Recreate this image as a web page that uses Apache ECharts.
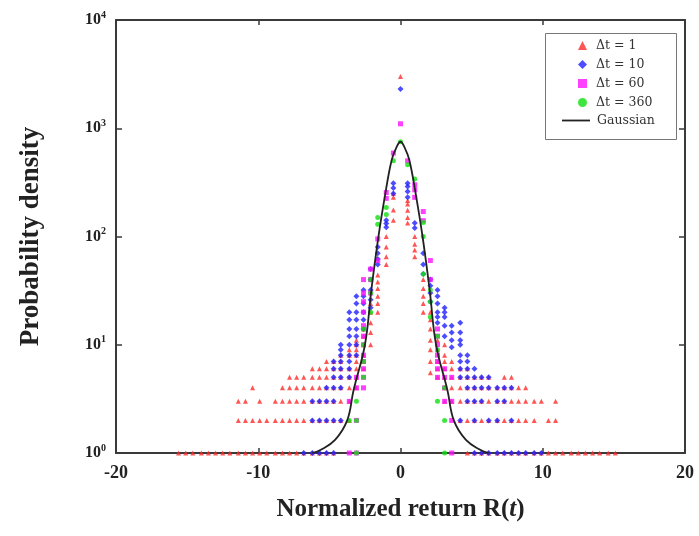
<!DOCTYPE html>
<html><head><meta charset="utf-8">
<script src="https://cdn.jsdelivr.net/npm/echarts@6.0.0/dist/echarts.min.js"></script>
<style>html,body{margin:0;padding:0;background:#fff}#c{width:699px;height:536px}</style>
</head><body><div id="c"></div>
<script>
// ---- data ----
const xTicks = [-20, -10, 0, 10, 20];
const yTicks = [1, 10, 100, 1000, 10000];
const seriesNames = ['Δt = 1', 'Δt = 10', 'Δt = 60', 'Δt = 360', 'Gaussian'];

// columns: [R, [densities at that R]]
const dt1 = [
  [-15.6,[1]],[-15.1,[1]],[-14.6,[1]],[-14.0,[1]],[-13.5,[1]],[-13.0,[1]],[-12.5,[1]],[-12.0,[1]],
  [-11.4,[1,2,3]],[-10.9,[1,2,3]],[-10.4,[1,2,4]],[-9.9,[1,2,3]],[-9.4,[1,2]],[-8.8,[1,2,3]],
  [-8.3,[1,2,3,4]],[-7.8,[1,2,3,4,5]],[-7.3,[1,2,3,4,5]],[-6.8,[1,2,3,4,5]],[-6.2,[1,2,3,4,5,6]],
  [-5.7,[1,2,3,4,5,6]],[-5.2,[1,2,3,4,5,6,7]],[-4.7,[1,2,3,4,5,6,7]],[-4.2,[2,3,4,5,6,7,8]],
  [-3.6,[2,3,4,5,6,8,9]],[-3.1,[4,5,6,7,8,9,10,11]],[-2.6,[6,7,8,10,12,14]],[-2.1,[10,13,16,20,24]],
  [-1.6,[20,24,28,33,38,44]],[-1.0,[55,65,80,100]],[-0.5,[141,176,230,250]],[0,[3000]],
  [0.5,[133,150,175,200,215]],[1.0,[65,75,85,100]],[1.6,[20,24,28,33,40]],[2.1,[5.5,7,9,11,14,17,20]],
  [2.6,[5,6,7,9,11]],[3.1,[3,4,5,6,7,8,10]],[3.6,[3,4,5,6,7]],[4.2,[2,3,4,5,6]],[4.7,[1,2,3,4,5,6]],
  [5.2,[1,2,3,4,5]],[5.7,[1,2,3,4,5]],[6.2,[1,2,3,4,5]],[6.8,[1,2,3,4]],[7.3,[1,2,3,4,5]],
  [7.8,[1,2,3,4,5]],[8.3,[1,2,3,4]],[8.8,[1,2,3,4]],[9.4,[1,2,3]],[9.9,[1,3]],[10.4,[1,2]],
  [10.9,[1,2,3]],[11.4,[1]],[12.0,[1]],[12.5,[1]],[13.0,[1]],[13.5,[1]],[14.0,[1]],[14.6,[1]],[15.1,[1]]
];
const dt10 = [
  [-6.8,[1]],[-6.2,[1,2,3]],[-5.7,[1,2,3]],[-5.2,[1,2,3,4]],[-4.7,[1,2,3,4,5,6,7]],
  [-4.2,[2,4,5,6,7,8,9,10]],[-3.6,[5,6,7,8,10,12,14,17,20]],[-3.1,[8,10,12,14,17,20,24,28]],
  [-2.6,[14,17,20,24,28,32]],[-2.1,[22,26,32,40,50]],[-1.6,[55,62,70,80]],[-1.0,[122,132,141]],
  [-0.5,[250,280,310]],[0,[2300]],[0.5,[230,260,290,310]],[1.0,[120,133]],[1.6,[45,55,70]],
  [2.1,[25,30,35,40]],[2.6,[16,18,20,24,28,32]],[3.1,[12,15,18,20,22]],[3.6,[9.5,11,13,15]],
  [4.2,[2,5,6,7,8,10,11,13,16]],[4.7,[3,4,5,6,7,8]],[5.2,[1,2,3,4,5,6]],[5.7,[1,3,4,5]],
  [6.2,[1,2,4,5]],[6.8,[1,2,3,4]],[7.3,[1,3,4]],[7.8,[1,2,4]],[8.3,[1]],[8.8,[1]],[9.4,[1]],[9.9,[1]]
];
const dt60 = [
  [-3.6,[1,3]],[-3.1,[1,2,4,5]],[-2.6,[4,5,6,7,8,10,12,15,20,25,30,40]],[-2.1,[30,40,50]],
  [-1.6,[60,95]],[-1.0,[225,255]],[-0.5,[590]],[0,[1100]],[0.5,[500]],[1.0,[230,270,300]],
  [1.6,[140,170]],[2.1,[40,60]],[2.6,[5,6,7,8,10,12,14]],[3.1,[3,4,5,6]],[3.6,[1,2,3,5]]
];
const dt360 = [
  [-3.6,[2]],[-3.1,[1,2,3]],[-2.6,[5,7,10,14]],[-2.1,[20,30,40]],[-1.6,[130,150]],
  [-1.0,[160,185]],[-0.5,[500]],[0,[750]],[0.5,[460]],[1.0,[340]],[1.6,[45,100,135]],
  [2.1,[18,25,32]],[2.6,[3,9,12]],[3.1,[1,2,4]]
];
const gaussX = [-6.2,-5.6,-4.6,-3.75,-3.3,-2.5,-2.05,-1.55,-1.06,-0.62,-0.3,0,0.3,0.62,1.06,1.55,2.05,2.5,3.3,3.75,4.6,5.6,6.2];
const gaussY = [1.0,1.07,1.32,2,3.8,10,32,100,252,509,660,750,660,509,252,100,32,10,3.8,2,1.32,1.07,1.0];

// ---- build ----
function flat(cols){ const out=[]; cols.forEach(c=>c[1].forEach(v=>out.push([c[0],v]))); return out; }
const serif = "'Liberation Serif','DejaVu Serif',serif";
const legSerif = "'DejaVu Serif','Liberation Serif',serif";
const axisCol = '#3a3a3a';
const legText = {fontFamily:legSerif,fontSize:12.5,color:'#333',padding:[0,0,0,4]};
const chart = echarts.init(document.getElementById('c'));
chart.setOption({
  animation:false,
  backgroundColor:'#fff',
  grid:{left:116,right:14,top:20,bottom:83,containLabel:false},
  graphic:[{type:'rect',left:543,top:31,shape:{width:131,height:106},
            style:{fill:'none',stroke:'#777',lineWidth:1},silent:true}],
  legend:[{
    orient:'vertical', left:578, top:39,
    data:seriesNames.slice(0,4),
    padding:0, itemGap:6, itemWidth:9, itemHeight:9,
    textStyle:legText
  },{
    orient:'vertical', left:562, top:114,
    data:[{name:seriesNames[4],icon:'rect'}],
    padding:0, itemWidth:28, itemHeight:1.8,
    textStyle:{fontFamily:legSerif,fontSize:12.5,color:'#333',padding:[0,0,0,2]}
  }],
  xAxis:[{
    type:'value', min:xTicks[0], max:xTicks[xTicks.length-1], interval:10,
    name:'{b|Normalized return R(}{i|t}{b|)}', nameLocation:'middle', nameGap:44,
    nameTextStyle:{rich:{b:{fontFamily:serif,fontSize:25,fontWeight:'bold',color:'#222'},
                         i:{fontFamily:serif,fontSize:25,fontWeight:'bold',fontStyle:'italic',color:'#222'}}},
    axisLine:{onZero:false,lineStyle:{color:axisCol,width:2}},
    axisTick:{inside:true,length:5,lineStyle:{color:axisCol,width:1.5}},
    axisLabel:{fontFamily:serif,fontSize:18,fontWeight:'bold',color:'#222',margin:11},
    splitLine:{show:false}
  },{
    type:'value', position:'top', min:xTicks[0], max:xTicks[xTicks.length-1], interval:10,
    axisLine:{onZero:false,lineStyle:{color:axisCol,width:2}},
    axisTick:{inside:true,length:5,lineStyle:{color:axisCol,width:1.5}},
    axisLabel:{show:false}, splitLine:{show:false}
  }],
  yAxis:[{
    type:'log', logBase:10, min:yTicks[0], max:yTicks[yTicks.length-1],
    name:'Probability density', nameLocation:'middle', nameGap:71, nameRotate:90,
    nameTextStyle:{fontFamily:serif,fontSize:27,fontWeight:'bold',color:'#222'},
    axisLine:{onZero:false,lineStyle:{color:axisCol,width:2}},
    axisTick:{inside:true,length:6,lineStyle:{color:axisCol,width:1.5}},
    axisLabel:{fontFamily:serif,fontSize:15,fontWeight:'bold',color:'#222',margin:10,
      formatter:function(v){const e=Math.round(Math.log10(v));return '{b|10}{s|'+e+'}';},
      rich:{b:{fontFamily:serif,fontSize:16,fontWeight:'bold',color:'#222',lineHeight:20},
            s:{fontFamily:serif,fontSize:10,fontWeight:'bold',color:'#222',verticalAlign:'top'}}},
    splitLine:{show:false}, minorTick:{show:false}
  },{
    type:'log', logBase:10, position:'right', min:yTicks[0], max:yTicks[yTicks.length-1],
    axisLine:{onZero:false,lineStyle:{color:axisCol,width:2}},
    axisTick:{inside:true,length:6,lineStyle:{color:axisCol,width:1.5}},
    axisLabel:{show:false}, splitLine:{show:false}
  }],
  series:[
    {name:seriesNames[0],type:'scatter',symbol:'triangle',symbolSize:5,data:flat(dt1),
     itemStyle:{color:'#ff2a2a'},z:2},
    {name:seriesNames[1],type:'scatter',symbol:'diamond',symbolSize:6,data:flat(dt10),
     itemStyle:{color:'#2020ff'},z:3},
    {name:seriesNames[2],type:'scatter',symbol:'rect',symbolSize:5,data:flat(dt60),
     itemStyle:{color:'#ff10ff'},z:4},
    {name:seriesNames[3],type:'scatter',symbol:'circle',symbolSize:5,data:flat(dt360),
     itemStyle:{color:'#10e010'},z:5},
    {name:seriesNames[4],type:'line',symbol:'none',smooth:0.4,
     data:gaussX.map((x,i)=>[x,gaussY[i]]),
     lineStyle:{color:'#222',width:1.8},itemStyle:{color:'#222'},z:6}
  ]
});
</script></body></html>
